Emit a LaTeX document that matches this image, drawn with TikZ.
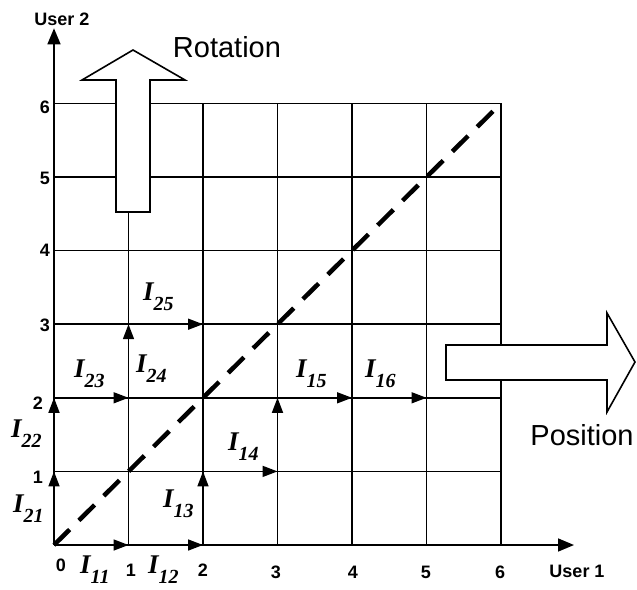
\documentclass[tikz,border=0pt]{standalone}
\usepackage{fontspec}
\setmainfont{Liberation Serif}
\newfontfamily\sansf{Liberation Sans}
\usetikzlibrary{arrows.meta}
\newcommand\Ilab[1]{{\bfseries\itshape\fontsize{27}{27}\selectfont I\raisebox{-10pt}{\fontsize{20}{20}\selectfont #1}}}
\begin{document}
\begin{tikzpicture}[x=1pt,y=-1pt,
  gridline/.style={line width=1.6pt},
  flow/.style={line width=1.6pt,-{Triangle[length=15pt,width=11pt]}},
  axis/.style={line width=1.6pt,-{Triangle[length=16pt,width=13pt]}},
  diag/.style={line width=4.5pt,dash pattern=on 22pt off 13pt},
  tick/.style={font=\sansf\bfseries\fontsize{18}{18}\selectfont, inner sep=0pt},
  axlab/.style={font=\sansf\bfseries\fontsize{18}{18}\selectfont, inner sep=0pt},
  big/.style={font=\sansf\fontsize{29}{29}\selectfont, inner sep=0pt},
  lab/.style={inner sep=0pt, anchor=base west},
  bigarrow/.style={fill=white, draw, line width=1.6pt, line join=miter}
]
\useasboundingbox (0,0) rectangle (637,589);
\begin{scope}[shift={(54,545)},x=74.5pt,y=73.6pt]
  \foreach \i in {0,...,6}{\foreach \j in {0,...,6}{\coordinate (p\i\j) at (\i,\j);}}
  \coordinate (xend) at (6.98,0);
  \coordinate (yend) at (0,7.02);
\end{scope}
% grid
\foreach \i in {1,...,6}{
  \draw[gridline] (p\i0) -- (p\i6);
  \draw[gridline] (p0\i) -- (p6\i);
}
% diagonal
\draw[diag] (p00) -- (p66);
% axes
\draw[axis] (p00) -- (xend);
\draw[axis] (p00) -- (yend);
% flow arrows
\draw[flow] (p00) -- (p10);
\draw[flow] (p10) -- (p20);
\draw[flow] (p00) -- (p01);
\draw[flow] (p01) -- (p02);
\draw[flow] (p20) -- (p21);
\draw[flow] (p21) -- (p31);
\draw[flow] (p31) -- (p32);
\draw[flow] (p32) -- (p42);
\draw[flow] (p42) -- (p52);
\draw[flow] (p02) -- (p12);
\draw[flow] (p12) -- (p13);
\draw[flow] (p13) -- (p23);
% big arrows
\draw[bigarrow] (116,212) -- (116,80) -- (82,80) -- (133,50) -- (185,80) -- (150,80) -- (150,212) -- cycle;
\draw[bigarrow] (446,345) -- (607,345) -- (607,313) -- (635,362) -- (607,412) -- (607,380) -- (446,380) -- cycle;
\node[big] (rot) at (227,47) {Rotation};
\node[big] (pos) at (582,435) {Position};
% axis labels
\node[axlab] (u1) at (577,571) {User 1};
\node[axlab] (u2) at (62,19) {User 2};
% ticks
\node[tick] (t0) at (61,565) {0};
\node[tick] (t1) at (131,570) {1};
\node[tick] (t2) at (203,570) {2};
\node[tick] (t3) at (276,572) {3};
\node[tick] (t4) at (353,572) {4};
\node[tick] (t5) at (426,572) {5};
\node[tick] (t6) at (500,572) {6};
\node[tick] (s1) at (38,477) {1};
\node[tick] (s2) at (38,403) {2};
\node[tick] (s3) at (45,325) {3};
\node[tick] (s4) at (45,250) {4};
\node[tick] (s5) at (45,178) {5};
\node[tick] (s6) at (45,107) {6};
% labels
\node[lab] (I11) at (80,573) {\Ilab{11}};
\node[lab] (I12) at (148,573) {\Ilab{12}};
\node[lab] (I13) at (163,507) {\Ilab{13}};
\node[lab] (I14) at (228,450) {\Ilab{14}};
\node[lab] (I15) at (296,377) {\Ilab{15}};
\node[lab] (I16) at (365,377) {\Ilab{16}};
\node[lab] (I21) at (13,512) {\Ilab{21}};
\node[lab] (I22) at (11,437) {\Ilab{22}};
\node[lab] (I23) at (74,377) {\Ilab{23}};
\node[lab] (I24) at (136,372) {\Ilab{24}};
\node[lab] (I25) at (143,300) {\Ilab{25}};
\end{tikzpicture}
\end{document}
